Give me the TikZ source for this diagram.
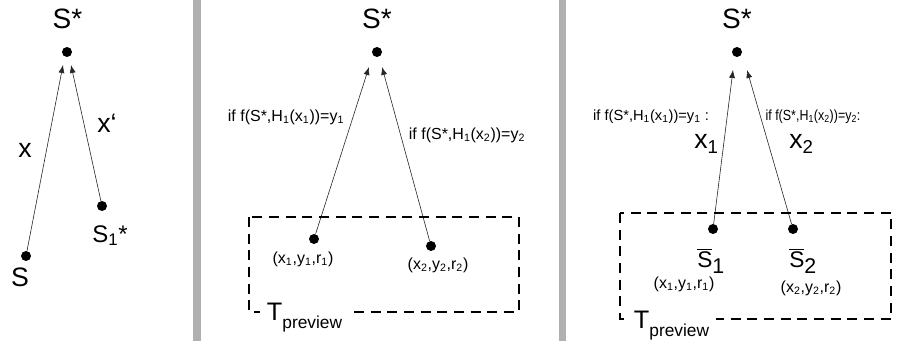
\documentclass[tikz,border=0pt]{standalone}
\usepackage{fontspec}
\setmainfont{Liberation Sans}
\usetikzlibrary{arrows.meta,calc}
\definecolor{bargray}{RGB}{176,176,176}
\begin{document}
\begin{tikzpicture}[x=0.75pt,y=-0.75pt,
  dot/.style={circle,fill=black,inner sep=0pt,minimum size=7.5pt},
  big/.style={inner sep=0pt,font=\fontsize{21}{24}\selectfont},
  xl/.style={inner sep=0pt,font=\fontsize{20}{22}\selectfont},
  lbl/.style={inner sep=0pt,font=\fontsize{12}{14}\selectfont},
  lbls/.style={inner sep=0pt,font=\fontsize{11}{13}\selectfont},
  sbar/.style={inner sep=0pt,font=\fontsize{17}{19}\selectfont},
  arr/.style={-{Latex[length=6pt,width=4.5pt]},line width=0.45pt,draw=black!85},
  tbox/.style={draw=black,line width=1.6pt,dash pattern=on 7.5pt off 5pt},
  tlab/.style={fill=white,inner xsep=5pt,inner ysep=1pt,anchor=base west,font=\fontsize{19}{21}\selectfont}]
\useasboundingbox (0,0) rectangle (898,345);
\fill[white] (0,0) rectangle (898,345);
% separators
\fill[bargray] (193,0) rectangle (201,341);
\fill[bargray] (559,0) rectangle (566,341);

% ---------- panel 1 ----------
\node[big] (p1sl) at (67.5,19) {S*};
\node[dot] (p1top) at (67,52) {};
\node[dot] (p1s) at (26,256) {};
\node[dot] (p1s1) at (102,206) {};
\node[big,font=\fontsize{20}{22}\selectfont] (p1slab) at (20,277.5) {S};
\node[big,font=\fontsize{18}{20}\selectfont,anchor=base west] (p1s1lab) at (92,242) {S\textsubscript{1}*};
\node[xl] (p1x) at (25,150) {x};
\node[xl] (p1xp) at (107,123) {x‘};
\coordinate (p1ta) at ($(p1top)+(-4,13)$);
\coordinate (p1tb) at ($(p1top)+(4,13)$);
\draw[arr] (p1s) -- (p1ta);
\draw[arr] (p1s1) -- (p1tb);

% ---------- panel 2 ----------
\node[big] (p2sl) at (377,19) {S*};
\node[dot] (p2top) at (377,52) {};
\node[dot] (p2a) at (314,239) {};
\node[dot] (p2b) at (431,246) {};
\node[lbl] (p2alab) at (303,259) {(x\textsubscript{1},y\textsubscript{1},r\textsubscript{1})};
\node[lbl] (p2blab) at (438,265) {(x\textsubscript{2},y\textsubscript{2},r\textsubscript{2})};
\node[lbl] (p2c1) at (286,117) {if f(S*,H\textsubscript{1}(x\textsubscript{1}))=y\textsubscript{1}};
\node[lbl] (p2c2) at (467,135) {if f(S*,H\textsubscript{1}(x\textsubscript{2}))=y\textsubscript{2}};
\coordinate (p2ta) at ($(p2top)+(-8,15)$);
\coordinate (p2tb) at ($(p2top)+(5,15)$);
\draw[arr] (p2a) -- (p2ta);
\draw[arr] (p2b) -- (p2tb);
\draw[tbox] (249,217) rectangle (519,312);
\node[tlab] (p2t) at (260,320) {T\raisebox{-6.5pt}{\fontsize{13}{14}\selectfont preview}};

% ---------- panel 3 ----------
\node[big] (p3sl) at (737,19) {S*};
\node[dot] (p3top) at (737,52) {};
\node[dot] (p3a) at (713,229) {};
\node[dot] (p3b) at (793,229) {};
\node[lbls] (p3c1) at (651,117) {if f(S*,H\textsubscript{1}(x\textsubscript{1}))=y\textsubscript{1} :};
\node[lbls] (p3c2) at (813,117) {\scalebox{0.85}[1]{if f(S*,H\textsubscript{1}(x\textsubscript{2}))=y\textsubscript{2}:}};
\node[xl,anchor=base west] (p3x1) at (694,149) {x\textsubscript{1}};
\node[xl,anchor=base west] (p3x2) at (789,149) {x\textsubscript{2}};
\node[sbar,anchor=base west] (p3s1) at (697,267) {$\overline{\mbox{S}}$\raisebox{-4.5pt}{\fontsize{16}{18}\selectfont 1}};
\node[sbar,anchor=base west] (p3s2) at (789,267) {$\overline{\mbox{S}}$\raisebox{-4.5pt}{\fontsize{16}{18}\selectfont 2}};
\node[lbl] (p3alab) at (684,284) {(x\textsubscript{1},y\textsubscript{1},r\textsubscript{1})};
\node[lbl] (p3blab) at (811,288) {(x\textsubscript{2},y\textsubscript{2},r\textsubscript{2})};
\coordinate (p3ta) at ($(p3top)+(-4,18)$);
\coordinate (p3tb) at ($(p3top)+(10,18)$);
\draw[arr] (p3a) -- (p3ta);
\draw[arr] (p3b) -- (p3tb);
\draw[tbox] (620,213) rectangle (891,319);
\node[tlab] (p3t) at (627,328) {T\raisebox{-6.5pt}{\fontsize{13}{14}\selectfont preview}};
\end{tikzpicture}
\end{document}
